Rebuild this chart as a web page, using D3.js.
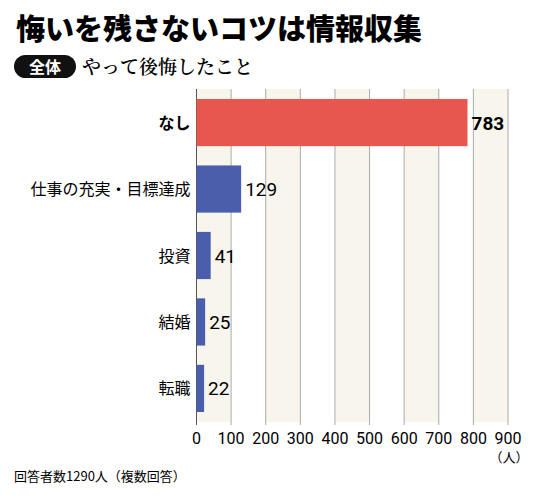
<!DOCTYPE html>
<html><head><meta charset="utf-8">
<script src="https://cdn.jsdelivr.net/npm/d3@7"></script>
<style>body{margin:0;background:#fff}svg{font-family:"Noto Sans CJK JP",sans-serif}</style>
</head><body><svg id="c" width="540" height="497"></svg>
<script>
const categories=["なし","仕事の充実・目標達成","投資","結婚","転職"];
const values=[783,129,41,25,22];
const ticks=[0,100,200,300,400,500,600,700,800,900];
const svg=d3.select("#c");
const x=d3.scaleLinear().domain([0,900]).range([196.5,508]);
const y=d3.scaleBand().domain(categories).range([89,422]).paddingInner(0.29).paddingOuter(0.15);
const plotTop=89,plotBot=422;
svg.append("text").attr("x",16).attr("y",40).attr("font-size",29).attr("font-weight",900).text("悔いを残さないコツは情報収集");
svg.append("rect").attr("x",14).attr("y",55).attr("width",62).attr("height",23).attr("rx",11.5).attr("fill","#111");
svg.append("text").attr("x",45).attr("y",72.5).attr("text-anchor","middle").attr("fill","#fff").attr("font-size",16).attr("font-weight",700).text("全体");
svg.append("text").attr("x",82).attr("y",74).attr("font-size",19).attr("font-family","'Noto Serif CJK JP',serif").attr("font-weight",600).text("やって後悔したこと");
for(let i=0;i<ticks.length-1;i+=2){
  svg.append("rect").attr("x",x(ticks[i])).attr("y",plotTop).attr("width",x(ticks[i+1])-x(ticks[i])).attr("height",plotBot-plotTop).attr("fill","#f8f6ec");
}
svg.selectAll(".g").data(ticks).join("line").attr("x1",d=>x(d)).attr("x2",d=>x(d)).attr("y1",plotTop).attr("y2",plotBot+3).attr("stroke",(d)=>d===0?"#555":"#aaa").attr("stroke-width",1);
svg.selectAll(".b").data(values).join("rect").attr("x",x(0)).attr("y",(d,i)=>y(categories[i])).attr("width",d=>x(d)-x(0)).attr("height",y.bandwidth()).attr("fill",(d,i)=>i===0?"#e85650":"#4a5eab");
svg.selectAll(".v").data(values).join("text").attr("x",d=>x(d)+4).attr("y",(d,i)=>y(categories[i])+y.bandwidth()/2+7).attr("font-size",19).attr("font-weight",(d,i)=>i===0?700:400).attr("font-family","Roboto,sans-serif").text(d=>d);
svg.selectAll(".c").data(categories).join("text").attr("x",x(0)-6).attr("y",d=>y(d)+y.bandwidth()/2+6).attr("text-anchor","end").attr("font-size",16).attr("font-weight",(d,i)=>i===0?700:400).text(d=>d);
svg.selectAll(".t").data(ticks).join("text").attr("x",d=>x(d)).attr("y",444).attr("text-anchor","middle").attr("font-size",16).attr("font-family","Roboto,sans-serif").text(d=>d);
svg.append("text").attr("x",509).attr("y",462).attr("text-anchor","middle").attr("font-size",13).text("（人）");
svg.append("text").attr("x",14).attr("y",481).attr("font-size",13).text("回答者数1290人（複数回答）");
</script></body></html>
